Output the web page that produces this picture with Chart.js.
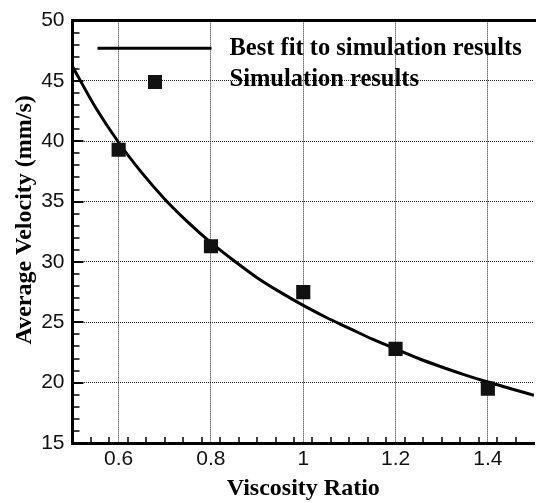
<!DOCTYPE html>
<html><head><meta charset="utf-8">
<script src="https://cdn.jsdelivr.net/npm/chart.js@4"></script>
<style>html,body{margin:0;padding:0;background:#fff;overflow:hidden}canvas{display:block}</style>
</head><body>
<canvas id="c" width="544" height="503"></canvas>
<script>
// Best-fit curve
const fitX = [0.5, 0.55, 0.6, 0.65, 0.7, 0.75, 0.8, 0.85, 0.9, 0.95, 1.0, 1.05, 1.1, 1.15, 1.2, 1.25, 1.3, 1.35, 1.4, 1.45, 1.5];
const fitY = [46.2, 42.8, 39.9, 37.4, 35.2, 33.3, 31.6, 30.1, 28.7, 27.5, 26.4, 25.4, 24.5, 23.6, 22.8, 22.0, 21.3, 20.65, 20.05, 19.5, 18.95];
// Simulation results
const simX = [0.6, 0.8, 1.0, 1.2, 1.4];
const simY = [39.3, 31.3, 27.5, 22.8, 19.5];
// Tick labels
const xTicks = [0.6, 0.8, 1, 1.2, 1.4];
const yTicks = [15, 20, 25, 30, 35, 40, 45, 50];
const seriesNames = ['Best fit to simulation results', 'Simulation results'];
const xTitle = 'Viscosity Ratio';
const yTitle = 'Average Velocity (mm/s)';

const frameAndTicks = {
  id: 'frameAndTicks',
  afterDraw(chart) {
    const {ctx, chartArea: a, scales: {x, y}} = chart;
    ctx.save();
    ctx.strokeStyle = '#000';
    ctx.lineWidth = 3;
    ctx.beginPath();
    ctx.moveTo(a.left - 1.5, a.top);
    ctx.lineTo(a.right + 2, a.top);
    ctx.stroke();
    // x ticks (inward), minor every 0.04
    for (let i = 1; i < 25; i++) {
      const v = x.min + i * 0.04;
      const major = xTicks.some(t => Math.abs(t - v) < 1e-6);
      const px = Math.round(x.getPixelForValue(v));
      ctx.lineWidth = major ? 2 : 1.5;
      ctx.beginPath();
      ctx.moveTo(px, a.bottom);
      ctx.lineTo(px, a.bottom - (major ? 11 : 6));
      ctx.stroke();
    }
    // y ticks (inward), minor every 1
    for (let v = y.min + 1; v < y.max; v++) {
      const major = yTicks.includes(v);
      const py = Math.round(y.getPixelForValue(v));
      ctx.lineWidth = major ? 2 : 1.5;
      ctx.beginPath();
      ctx.moveTo(a.left, py);
      ctx.lineTo(a.left + (major ? 11 : 7), py);
      ctx.stroke();
    }
    ctx.restore();
  }
};

const insideLegend = {
  id: 'insideLegend',
  afterDraw(chart) {
    const {ctx, chartArea: a} = chart;
    const ds = chart.data.datasets;
    ctx.save();
    ctx.font = 'bold 24.5px "Liberation Serif", "Times New Roman", serif';
    ctx.textAlign = 'left';
    ctx.textBaseline = 'middle';
    const x0 = a.left + 25, x1 = a.left + 139, tx = a.left + 157;
    const r1 = a.top + 27.7, r2 = a.top + 61;
    ctx.strokeStyle = ds[0].borderColor;
    ctx.lineWidth = 3;
    ctx.beginPath();
    ctx.moveTo(x0, r1);
    ctx.lineTo(x1, r1);
    ctx.stroke();
    ctx.fillStyle = '#000';
    ctx.fillText(ds[0].label, tx, r1);
    ctx.fillStyle = ds[1].backgroundColor;
    ctx.fillRect(Math.round((x0 + x1) / 2 - 7), Math.round(r2 - 7), 14, 14);
    ctx.fillStyle = '#000';
    ctx.fillText(ds[1].label, tx, r2 - 2.3);
    ctx.restore();
  }
};

new Chart(document.getElementById('c'), {
  type: 'line',
  data: {
    datasets: [
      {
        label: seriesNames[0],
        data: fitX.map((v, i) => ({x: v, y: fitY[i]})),
        borderColor: '#000',
        backgroundColor: '#000',
        borderWidth: 3,
        pointRadius: 0,
        fill: false,
        cubicInterpolationMode: 'monotone',
        order: 2
      },
      {
        type: 'scatter',
        label: seriesNames[1],
        data: simX.map((v, i) => ({x: v, y: simY[i]})),
        backgroundColor: '#111',
        borderColor: '#111',
        borderWidth: 0,
        pointStyle: 'rect',
        pointRadius: 10,
        order: 1
      }
    ]
  },
  options: {
    responsive: false,
    animation: false,
    layout: {padding: {top: 19, right: 5.5, bottom: 0, left: 0}},
    plugins: {legend: {display: false}, tooltip: {enabled: false}},
    scales: {
      x: {
        type: 'linear',
        min: 0.5,
        max: 1.5,
        afterBuildTicks: s => { s.ticks = xTicks.map(v => ({value: v})); },
        afterFit: s => { s.height = 60; },
        ticks: {
          font: {family: '"Liberation Sans", Arial, sans-serif', size: 21},
          color: '#111',
          padding: 4,
          maxRotation: 0,
          autoSkip: false,
          callback: v => String(v)
        },
        grid: {color: '#222', lineWidth: 1, drawTicks: false},
        border: {display: true, color: '#000', width: 3, dash: [1, 1]},
        title: {
          display: true,
          text: xTitle,
          color: '#000',
          font: {family: '"Liberation Serif", "Times New Roman", serif', size: 24, weight: 'bold'},
          padding: 0
        }
      },
      y: {
        type: 'linear',
        min: 15,
        max: 50,
        afterBuildTicks: s => { s.ticks = yTicks.map(v => ({value: v})); },
        afterFit: s => { s.width = 72.5; },
        ticks: {
          font: {family: '"Liberation Sans", Arial, sans-serif', size: 21},
          color: '#111',
          padding: 8,
          callback: v => String(v)
        },
        grid: {color: '#222', lineWidth: 1, drawTicks: false},
        border: {display: true, color: '#000', width: 3, dash: [1, 1]},
        title: {
          display: true,
          text: '    ' + yTitle,
          color: '#000',
          font: {family: '"Liberation Serif", "Times New Roman", serif', size: 24, weight: 'bold'},
          padding: {top: 10, bottom: 0}
        }
      }
    }
  },
  plugins: [frameAndTicks, insideLegend]
});
</script>
</body></html>
